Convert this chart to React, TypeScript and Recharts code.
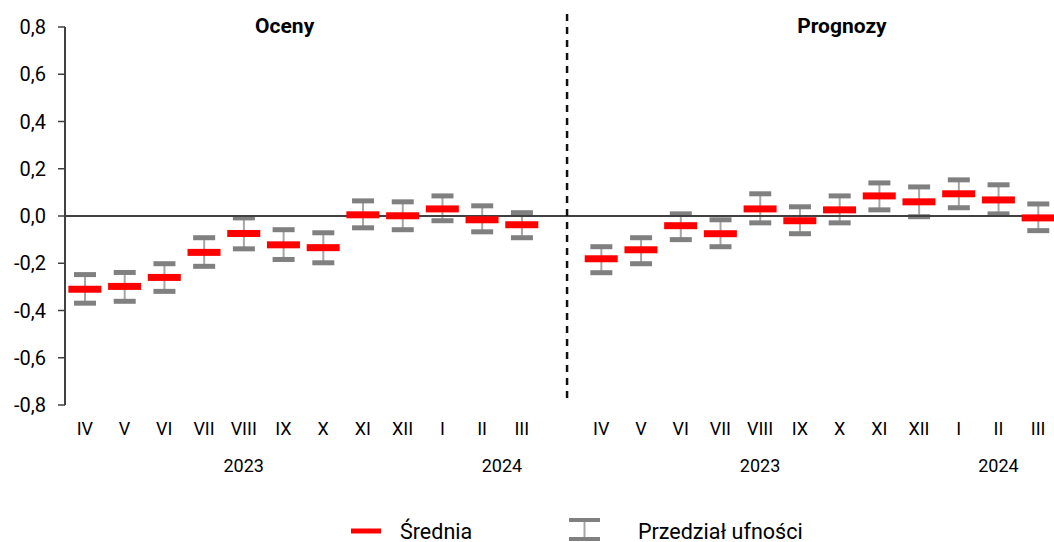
import { Bar, ComposedChart, Line, ReferenceDot, ReferenceLine, XAxis, YAxis } from 'recharts';

const months = ['IV', 'V', 'VI', 'VII', 'VIII', 'IX', 'X', 'XI', 'XII', 'I', 'II', 'III'];
const categories = [...months, '', ...months];

const ocenyMean = [-0.31, -0.298, -0.26, -0.154, -0.074, -0.122, -0.134, 0.005, 0.001, 0.03, -0.016, -0.037];
const ocenyLow = [-0.369, -0.361, -0.319, -0.213, -0.139, -0.184, -0.198, -0.05, -0.058, -0.02, -0.067, -0.092];
const ocenyHigh = [-0.248, -0.239, -0.202, -0.092, -0.008, -0.058, -0.071, 0.064, 0.06, 0.085, 0.043, 0.014];

const prognozyMean = [-0.181, -0.143, -0.041, -0.075, 0.03, -0.02, 0.026, 0.085, 0.06, 0.094, 0.068, -0.008];
const prognozyLow = [-0.24, -0.202, -0.1, -0.13, -0.029, -0.075, -0.029, 0.026, -0.003, 0.035, 0.009, -0.062];
const prognozyHigh = [-0.13, -0.092, 0.009, -0.016, 0.094, 0.039, 0.085, 0.14, 0.123, 0.153, 0.132, 0.051];

const yTicks = [-0.8, -0.6, -0.4, -0.2, 0, 0.2, 0.4, 0.6, 0.8];
const yearTicks = [4.5, 11, 17.5, 23.5];
const yearLabels = ['2023', '2024', '2023', '2024'];

const means = [...ocenyMean, null, ...prognozyMean];
const lows = [...ocenyLow, null, ...prognozyLow];
const highs = [...ocenyHigh, null, ...prognozyHigh];

const data = categories.map((label, i) => ({
  label,
  pos: i + 0.5,
  mean: means[i],
  range: lows[i] == null ? null : [lows[i], highs[i]],
}));

const FONT = 'Roboto, sans-serif';

const RangeShape = (props: any) => {
  const { x, y, width, height, payload } = props;
  if (!payload || payload.range == null) return <g />;
  const cx = x + width / 2;
  return (
    <g>
      <line x1={cx} x2={cx} y1={y} y2={y + height} stroke="#a6a6a6" strokeWidth={2} />
      <rect x={cx - 11} y={y - 2.5} width={22} height={5} fill="#808080" />
      <rect x={cx - 11} y={y + height - 2.5} width={22} height={5} fill="#808080" />
    </g>
  );
};

const MeanDot = (props: any) => {
  const { cx, cy, index, payload } = props;
  if (!payload || payload.mean == null || cy == null) return <g key={`m${index}`} />;
  return <rect key={`m${index}`} x={cx - 16.5} y={cy - 3.5} width={33} height={7} fill="#ff0000" />;
};

const fmt = (v: number) => v.toFixed(1).replace('.', ',');

export default function App() {
  return (
    <div style={{ position: 'absolute', left: 0, top: 0, width: 1054, height: 542, overflow: 'hidden', background: '#fff', fontFamily: FONT }}>
      <ComposedChart width={1060} height={542} data={data} margin={{ top: 27, right: 2, left: 0, bottom: 57 }} style={{ fontFamily: FONT }}>
        <XAxis
          xAxisId="c"
          dataKey="label"
          interval={0}
          axisLine={false}
          tickLine={false}
          tickSize={0}
          tickMargin={17}
          height={40}
          tick={{ fill: '#000', fontSize: 18, fontFamily: FONT }}
        />
        <XAxis
          xAxisId="n"
          type="number"
          dataKey="pos"
          domain={[0, 25]}
          allowDataOverflow
          ticks={yearTicks}
          tickFormatter={(v: number) => yearLabels[yearTicks.indexOf(v)] ?? ''}
          axisLine={false}
          tickLine={false}
          tickSize={0}
          tickMargin={14}
          height={40}
          tick={{ fill: '#000', fontSize: 18, fontFamily: FONT }}
        />
        <YAxis
          domain={[-0.8, 0.8]}
          ticks={yTicks}
          tickFormatter={fmt}
          width={65}
          axisLine={{ stroke: '#404040', strokeWidth: 2 }}
          tickLine={{ stroke: '#404040', strokeWidth: 1.5 }}
          tickSize={7}
          tickMargin={12}
          tick={{ fill: '#000', fontSize: 20, fontFamily: FONT }}
        />
        <Bar xAxisId="c" dataKey="range" barSize={22} shape={RangeShape} isAnimationActive={false} />
        <Line
          xAxisId="c"
          dataKey="mean"
          stroke="none"
          dot={MeanDot}
          activeDot={false}
          connectNulls={false}
          isAnimationActive={false}
        />
        <ReferenceLine xAxisId="c" y={0} stroke="#404040" strokeWidth={2} />
        <ReferenceLine
          xAxisId="n"
          ifOverflow="visible"
          segment={[{ x: 12.64, y: 0.855 }, { x: 12.64, y: -0.77 }]}
          stroke="#111"
          strokeWidth={2.5}
          strokeDasharray="7 6"
        />
        <ReferenceDot
          xAxisId="n"
          x={5.53}
          y={0.808}
          r={0}
          ifOverflow="visible"
          label={{ value: 'Oceny', position: 'center', fill: '#000', fontSize: 21, fontWeight: 'bold', fontFamily: FONT }}
        />
        <ReferenceDot
          xAxisId="n"
          x={19.56}
          y={0.808}
          r={0}
          ifOverflow="visible"
          label={{ value: 'Prognozy', position: 'center', fill: '#000', fontSize: 21, fontWeight: 'bold', fontFamily: FONT }}
        />
      </ComposedChart>
      <div style={{ position: 'absolute', left: 351, top: 516, height: 30, display: 'flex', alignItems: 'center', fontSize: 21.5, color: '#000' }}>
        <svg width={30} height={30} style={{ marginRight: 19 }}>
          <rect x={0} y={12.5} width={30} height={5} fill="#ff0000" />
        </svg>
        <span>Średnia</span>
      </div>
      <div style={{ position: 'absolute', left: 569, top: 516, height: 30, display: 'flex', alignItems: 'center', fontSize: 21.5, color: '#000' }}>
        <svg width={31} height={30} style={{ marginRight: 38 }}>
          <line x1={15.5} x2={15.5} y1={4} y2={23} stroke="#a6a6a6" strokeWidth={2} />
          <rect x={0} y={2} width={31} height={4} fill="#808080" />
          <rect x={0} y={21} width={31} height={4} fill="#808080" />
        </svg>
        <span>Przedział ufności</span>
      </div>
    </div>
  );
}
